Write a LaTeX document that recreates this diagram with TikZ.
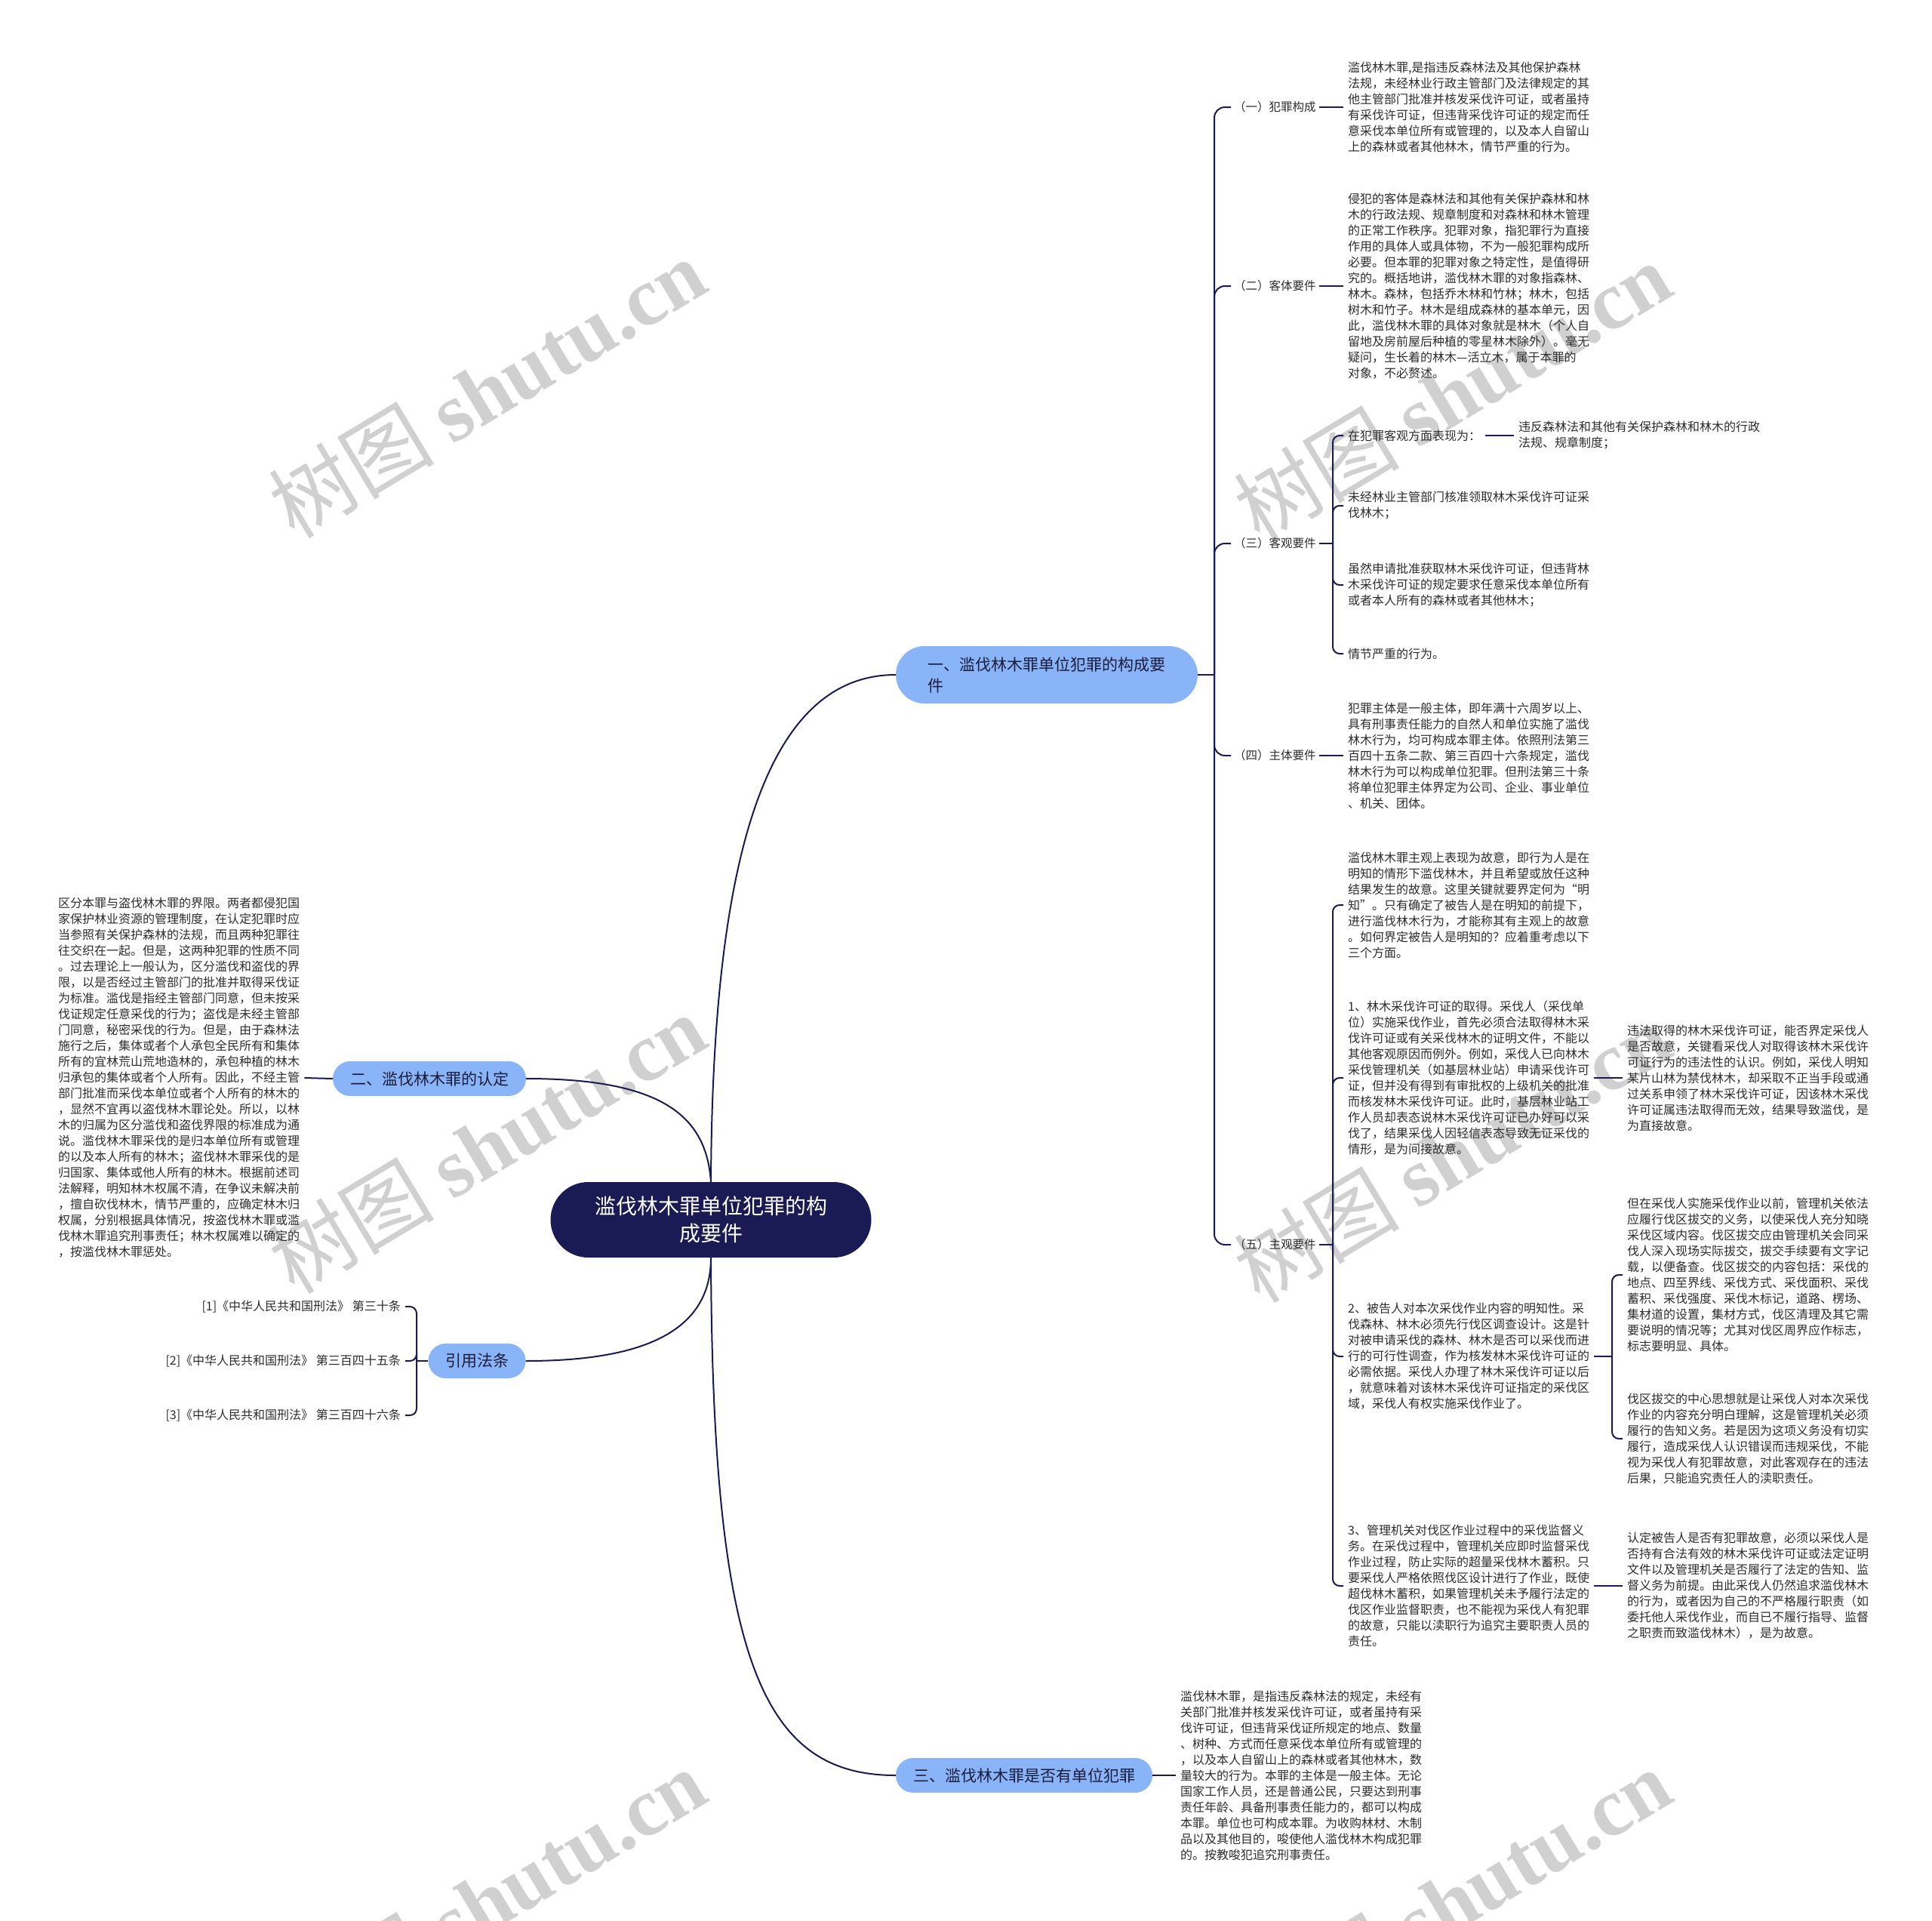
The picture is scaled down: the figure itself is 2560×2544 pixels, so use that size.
\documentclass[tikz,border=0pt]{standalone}
\usepackage{fontspec}
\setmainfont{Noto Sans CJK SC}
\newfontfamily\wmserif{Liberation Serif}
\definecolor{navy}{RGB}{26,26,84}
\definecolor{bluenode}{RGB}{138,180,248}
\definecolor{txt}{RGB}{45,45,45}
\definecolor{nodetxt}{RGB}{28,28,60}
\definecolor{wmgray}{RGB}{208,208,208}
\tikzset{
  conn/.style={draw=navy, line width=2pt},
  bconn/.style={draw=navy, line width=2pt, rounded corners=14pt},
  sconn/.style={draw=navy, line width=2pt, rounded corners=9pt},
  leaf/.style={font=\fontsize{16}{21}\selectfont, text=txt, align=left, inner xsep=6pt, inner ysep=2pt, anchor=west},
  leafr/.style={font=\fontsize{16}{21}\selectfont, text=txt, align=right, inner xsep=6pt, inner ysep=2pt, anchor=east},
  lab/.style={font=\fontsize{15.5}{20}\selectfont, text=txt, inner xsep=4pt, inner ysep=2pt, anchor=west},
  topic/.style={fill=bluenode, text=nodetxt, font=\fontsize{21}{28}\selectfont, align=left, inner sep=0pt},
  root/.style={fill=navy, text=white, font=\fontsize{28}{36}\selectfont, align=center, inner sep=0pt, minimum width=425pt, minimum height=100pt, rounded corners=50pt},
  wm/.style={rotate=31, text=wmgray, font=\fontsize{110}{110}\selectfont}
}
\begin{document}
\begin{tikzpicture}[x=1pt,y=-1pt]
\useasboundingbox[fill=white] (0,0) rectangle (2560,2544);

% watermarks
\foreach \wx/\wy in {645/514, 1924/519, 645/1515, 1924/1527, 645/2515, 1924/2515}{
  \node[wm] at (\wx,\wy) {树图 {\wmserif\bfseries shutu.cn}};
}

% main nodes
\node[root] (c) at (942,1616) {滥伐林木罪单位犯罪的构\\成要件};
\node[topic, minimum width=400pt, minimum height=76pt, rounded corners=38pt] (n1) at (1387,894) {一、滥伐林木罪单位犯罪的构成要\\件};
\node[topic, minimum width=256pt, minimum height=46pt, rounded corners=23pt] (n2) at (569,1429) {二、滥伐林木罪的认定};
\node[topic, minimum width=129pt, minimum height=46pt, rounded corners=23pt] (n3) at (632,1803) {引用法条};
\node[topic, minimum width=340pt, minimum height=46pt, rounded corners=23pt] (n4) at (1357,2352) {三、滥伐林木罪是否有单位犯罪};

\draw[conn] (c.north) .. controls (944,1150) and (1010,894) .. (n1.west);
\draw[conn] (c.north) .. controls (936,1480) and (880,1429) .. (n2.east);
\draw[conn] (c.south) .. controls (942,1760) and (860,1803) .. (n3.east);
\draw[conn] (c.south) .. controls (944,2200) and (1010,2352) .. (n4.west);

% level-2 labels under n1
\node[lab] (l1) at (1631,142) {（一）犯罪构成};
\node[lab] (l2) at (1631,379) {（二）客体要件};
\node[lab] (l3) at (1631,720) {（三）客观要件};
\node[lab] (l4) at (1631,1001) {（四）主体要件};
\node[lab] (l5) at (1631,1649) {（五）主观要件};

\coordinate (j1) at (1609,894);
\draw[conn] (n1.east) -- (j1);
\foreach \k in {l1,l2,l3,l4,l5}{\draw[bconn] (j1) |- (\k.west);}

% (一)
\node[leaf] (t1) at (1780,142) {滥伐林木罪,是指违反森林法及其他保护森林\\法规，未经林业行政主管部门及法律规定的其\\他主管部门批准并核发采伐许可证，或者虽持\\有采伐许可证，但违背采伐许可证的规定而任\\意采伐本单位所有或管理的，以及本人自留山\\上的森林或者其他林木，情节严重的行为。};
\draw[conn] (l1.east) -- (t1.west);

% (二)
\node[leaf] (t2) at (1780,379) {侵犯的客体是森林法和其他有关保护森林和林\\木的行政法规、规章制度和对森林和林木管理\\的正常工作秩序。犯罪对象，指犯罪行为直接\\作用的具体人或具体物，不为一般犯罪构成所\\必要。但本罪的犯罪对象之特定性，是值得研\\究的。概括地讲，滥伐林木罪的对象指森林、\\林木。森林，包括乔木林和竹林；林木，包括\\树木和竹子。林木是组成森林的基本单元，因\\此，滥伐林木罪的具体对象就是林木（个人自\\留地及房前屋后种植的零星林木除外）。毫无\\疑问，生长着的林木—活立木，属于本罪的\\对象，不必赘述。};
\draw[conn] (l2.east) -- (t2.west);

% (三)
\node[leaf] (c31) at (1780,577) {在犯罪客观方面表现为：};
\node[leaf] (c31a) at (2006,577) {违反森林法和其他有关保护森林和林木的行政\\法规、规章制度；};
\node[leaf] (c32) at (1780,670) {未经林业主管部门核准领取林木采伐许可证采\\伐林木；};
\node[leaf] (c33) at (1780,775) {虽然申请批准获取林木采伐许可证，但违背林\\木采伐许可证的规定要求任意采伐本单位所有\\或者本人所有的森林或者其他林木；};
\node[leaf] (c34) at (1780,866) {情节严重的行为。};
\coordinate (j3) at (1766,720);
\draw[conn] (l3.east) -- (j3);
\foreach \k in {c31,c32,c33,c34}{\draw[sconn] (j3) |- (\k.west);}
\draw[conn] (c31.east) -- (c31a.west);

% (四)
\node[leaf] (t4) at (1780,1001) {犯罪主体是一般主体，即年满十六周岁以上、\\具有刑事责任能力的自然人和单位实施了滥伐\\林木行为，均可构成本罪主体。依照刑法第三\\百四十五条二款、第三百四十六条规定，滥伐\\林木行为可以构成单位犯罪。但刑法第三十条\\将单位犯罪主体界定为公司、企业、事业单位\\、机关、团体。};
\draw[conn] (l4.east) -- (t4.west);

% (五)
\node[leaf] (c51) at (1780,1199) {滥伐林木罪主观上表现为故意，即行为人是在\\明知的情形下滥伐林木，并且希望或放任这种\\结果发生的故意。这里关键就要界定何为“明\\知”。只有确定了被告人是在明知的前提下，\\进行滥伐林木行为，才能称其有主观上的故意\\。如何界定被告人是明知的？应着重考虑以下\\三个方面。};
\node[leaf] (c52) at (1780,1428) {1、林木采伐许可证的取得。采伐人（采伐单\\位）实施采伐作业，首先必须合法取得林木采\\伐许可证或有关采伐林木的证明文件，不能以\\其他客观原因而例外。例如，采伐人已向林木\\采伐管理机关（如基层林业站）申请采伐许可\\证，但并没有得到有审批权的上级机关的批准\\而核发林木采伐许可证。此时，基层林业站工\\作人员却表态说林木采伐许可证已办好可以采\\伐了，结果采伐人因轻信表态导致无证采伐的\\情形，是为间接故意。};
\node[leaf] (c52a) at (2150,1428) {违法取得的林木采伐许可证，能否界定采伐人\\是否故意，关键看采伐人对取得该林木采伐许\\可证行为的违法性的认识。例如，采伐人明知\\某片山林为禁伐林木，却采取不正当手段或通\\过关系申领了林木采伐许可证，因该林木采伐\\许可证属违法取得而无效，结果导致滥伐，是\\为直接故意。};
\node[leaf] (c53) at (1780,1797) {2、被告人对本次采伐作业内容的明知性。采\\伐森林、林木必须先行伐区调查设计。这是针\\对被申请采伐的森林、林木是否可以采伐而进\\行的可行性调查，作为核发林木采伐许可证的\\必需依据。采伐人办理了林木采伐许可证以后\\，就意味着对该林木采伐许可证指定的采伐区\\域，采伐人有权实施采伐作业了。};
\node[leaf] (c53a) at (2150,1689) {但在采伐人实施采伐作业以前，管理机关依法\\应履行伐区拔交的义务，以使采伐人充分知晓\\采伐区域内容。伐区拔交应由管理机关会同采\\伐人深入现场实际拔交，拔交手续要有文字记\\载，以便备查。伐区拔交的内容包括：采伐的\\地点、四至界线、采伐方式、采伐面积、采伐\\蓄积、采伐强度、采伐木标记，道路、楞场、\\集材道的设置，集材方式，伐区清理及其它需\\要说明的情况等；尤其对伐区周界应作标志，\\标志要明显、具体。};
\node[leaf] (c53b) at (2150,1906) {伐区拔交的中心思想就是让采伐人对本次采伐\\作业的内容充分明白理解，这是管理机关必须\\履行的告知义务。若是因为这项义务没有切实\\履行，造成采伐人认识错误而违规采伐，不能\\视为采伐人有犯罪故意，对此客观存在的违法\\后果，只能追究责任人的渎职责任。};
\node[leaf] (c54) at (1780,2101) {3、管理机关对伐区作业过程中的采伐监督义\\务。在采伐过程中，管理机关应即时监督采伐\\作业过程，防止实际的超量采伐林木蓄积。只\\要采伐人严格依照伐区设计进行了作业，既使\\超伐林木蓄积，如果管理机关未予履行法定的\\伐区作业监督职责，也不能视为采伐人有犯罪\\的故意，只能以渎职行为追究主要职责人员的\\责任。};
\node[leaf] (c54a) at (2150,2101) {认定被告人是否有犯罪故意，必须以采伐人是\\否持有合法有效的林木采伐许可证或法定证明\\文件以及管理机关是否履行了法定的告知、监\\督义务为前提。由此采伐人仍然追求滥伐林木\\的行为，或者因为自己的不严格履行职责（如\\委托他人采伐作业，而自已不履行指导、监督\\之职责而致滥伐林木），是为故意。};
\coordinate (j5) at (1766,1649);
\draw[conn] (l5.east) -- (j5);
\foreach \k in {c51,c52,c53,c54}{\draw[sconn] (j5) |- (\k.west);}
\draw[conn] (c52.east) -- (c52a.west);
\coordinate (j53) at (2136,1797);
\draw[conn] (c53.east) -- (j53);
\foreach \k in {c53a,c53b}{\draw[sconn] (j53) |- (\k.west);}
\draw[conn] (c54.east) -- (c54a.west);

% left: 二
\node[leaf] (lt) at (71,1428) {区分本罪与盗伐林木罪的界限。两者都侵犯国\\家保护林业资源的管理制度，在认定犯罪时应\\当参照有关保护森林的法规，而且两种犯罪往\\往交织在一起。但是，这两种犯罪的性质不同\\。过去理论上一般认为，区分滥伐和盗伐的界\\限，以是否经过主管部门的批准并取得采伐证\\为标准。滥伐是指经主管部门同意，但未按采\\伐证规定任意采伐的行为；盗伐是未经主管部\\门同意，秘密采伐的行为。但是，由于森林法\\施行之后，集体或者个人承包全民所有和集体\\所有的宜林荒山荒地造林的，承包种植的林木\\归承包的集体或者个人所有。因此，不经主管\\部门批准而采伐本单位或者个人所有的林木的\\，显然不宜再以盗伐林木罪论处。所以，以林\\木的归属为区分滥伐和盗伐界限的标准成为通\\说。滥伐林木罪采伐的是归本单位所有或管理\\的以及本人所有的林木；盗伐林木罪采伐的是\\归国家、集体或他人所有的林木。根据前述司\\法解释，明知林木权属不清，在争议未解决前\\，擅自砍伐林木，情节严重的，应确定林木归\\权属，分别根据具体情况，按盗伐林木罪或滥\\伐林木罪追究刑事责任；林木权属难以确定的\\，按滥伐林木罪惩处。};
\draw[conn] (n2.west) -- (lt.east);

% left: 引用法条
\node[leafr] (r1) at (537,1731) {[1]《中华人民共和国刑法》 第三十条};
\node[leafr] (r2) at (537,1803) {[2]《中华人民共和国刑法》 第三百四十五条};
\node[leafr] (r3) at (537,1875) {[3]《中华人民共和国刑法》 第三百四十六条};
\coordinate (j6) at (552,1803);
\draw[conn] (n3.west) -- (j6);
\foreach \k in {r1,r2,r3}{\draw[sconn] (j6) |- (\k.east);}

% bottom: 三
\node[leaf] (t3) at (1558,2352) {滥伐林木罪，是指违反森林法的规定，未经有\\关部门批准并核发采伐许可证，或者虽持有采\\伐许可证，但违背采伐证所规定的地点、数量\\、树种、方式而任意采伐本单位所有或管理的\\，以及本人自留山上的森林或者其他林木，数\\量较大的行为。本罪的主体是一般主体。无论\\国家工作人员，还是普通公民，只要达到刑事\\责任年龄、具备刑事责任能力的，都可以构成\\本罪。单位也可构成本罪。为收购林材、木制\\品以及其他目的，唆使他人滥伐林木构成犯罪\\的。按教唆犯追究刑事责任。};
\draw[conn] (n4.east) -- (t3.west);
\end{tikzpicture}
\end{document}
